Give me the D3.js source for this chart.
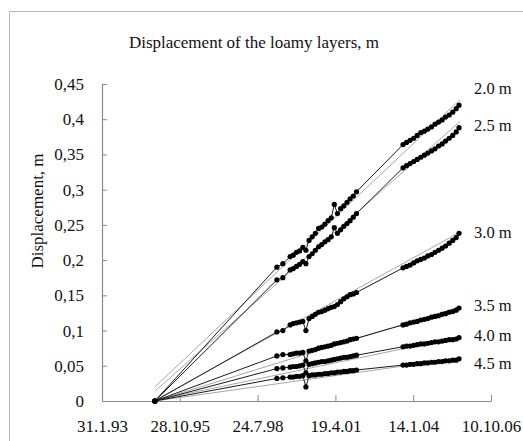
<!DOCTYPE html>
<html>
<head>
<meta charset="utf-8">
<script src="https://cdn.jsdelivr.net/npm/d3@7"></script>
<style>
  html, body { margin: 0; padding: 0; background: #fff; }
  svg { display: block; }
  text { font-family: "Liberation Serif", "Times New Roman", serif; fill: #111; }
</style>
</head>
<body>
<svg id="chart" width="523" height="441"></svg>
<script>
// ---------- DATA ----------
const titleText = "Displacement of the loamy layers, m";
const yAxisTitle = "Displacement, m";

// measurement dates shared by all depths
const dates = [
  "1994-12-12", "1999-03-29", "1999-06-14",
  "1999-09-15", "1999-10-25", "1999-12-05", "2000-01-15", "2000-02-25", "2000-04-05",
  "2000-05-15", "2000-06-25", "2000-08-05", "2000-09-15", "2000-10-25", "2000-12-05",
  "2001-01-15", "2001-02-25", "2001-04-05", "2001-05-15", "2001-06-25", "2001-08-05",
  "2001-09-15", "2001-10-25", "2001-12-05", "2002-01-15",
  "2003-09-05", "2003-10-20", "2003-12-05", "2004-01-20", "2004-03-05", "2004-04-20",
  "2004-06-05", "2004-07-20", "2004-09-05", "2004-10-20", "2004-12-05", "2005-01-20",
  "2005-03-05", "2005-04-20", "2005-06-05", "2005-07-20", "2005-08-25"
];

const depthLabels = ["2.0 m", "2.5 m", "3.0 m", "3.5 m", "4.0 m", "4.5 m"];

const disp2_0 = [0, 0.190, 0.195,
  0.205, 0.207, 0.211, 0.213, 0.218, 0.214, 0.228, 0.233, 0.238, 0.245, 0.247, 0.251,
  0.256, 0.260, 0.279, 0.266, 0.273, 0.277, 0.282, 0.287, 0.291, 0.297,
  0.364, 0.367, 0.370, 0.373, 0.377, 0.381, 0.383, 0.386, 0.389, 0.393, 0.396, 0.399,
  0.403, 0.406, 0.410, 0.415, 0.420];
const disp2_5 = [0, 0.172, 0.175,
  0.186, 0.188, 0.191, 0.194, 0.198, 0.195, 0.205, 0.209, 0.214, 0.219, 0.222, 0.226,
  0.229, 0.233, 0.246, 0.238, 0.243, 0.248, 0.252, 0.256, 0.261, 0.266,
  0.331, 0.334, 0.337, 0.340, 0.343, 0.346, 0.349, 0.352, 0.355, 0.358, 0.362, 0.365,
  0.369, 0.373, 0.377, 0.382, 0.388];
const disp3_0 = [0, 0.098, 0.100,
  0.108, 0.110, 0.111, 0.112, 0.113, 0.100, 0.117, 0.120, 0.123, 0.126, 0.127, 0.129,
  0.131, 0.133, 0.134, 0.137, 0.141, 0.145, 0.148, 0.151, 0.152, 0.154,
  0.189, 0.191, 0.193, 0.196, 0.199, 0.201, 0.203, 0.206, 0.208, 0.211, 0.214, 0.217,
  0.220, 0.224, 0.228, 0.232, 0.238];
const disp3_5 = [0, 0.064, 0.066,
  0.066, 0.067, 0.068, 0.068, 0.069, 0.057, 0.071, 0.072, 0.073, 0.075, 0.076, 0.077,
  0.078, 0.079, 0.081, 0.082, 0.083, 0.084, 0.085, 0.087, 0.088, 0.089,
  0.108, 0.109, 0.111, 0.112, 0.113, 0.115, 0.116, 0.117, 0.119, 0.120, 0.121, 0.123,
  0.124, 0.126, 0.127, 0.129, 0.132];
const disp4_0 = [0, 0.046, 0.047,
  0.048, 0.049, 0.049, 0.050, 0.051, 0.040, 0.052, 0.053, 0.054, 0.055, 0.056, 0.056,
  0.057, 0.058, 0.059, 0.060, 0.061, 0.062, 0.062, 0.063, 0.064, 0.065,
  0.077, 0.078, 0.078, 0.079, 0.080, 0.081, 0.081, 0.082, 0.083, 0.084, 0.084, 0.085,
  0.086, 0.087, 0.087, 0.088, 0.090];
const disp4_5 = [0, 0.032, 0.033,
  0.034, 0.034, 0.035, 0.035, 0.036, 0.020, 0.036, 0.037, 0.037, 0.038, 0.038, 0.039,
  0.039, 0.040, 0.040, 0.041, 0.041, 0.042, 0.042, 0.043, 0.043, 0.044,
  0.051, 0.051, 0.052, 0.052, 0.053, 0.053, 0.054, 0.054, 0.055, 0.055, 0.056, 0.056,
  0.057, 0.057, 0.058, 0.058, 0.060];

// linear trend lines (start / end)
const trendDates = ["1994-12-12", "2005-09-10"];
const trend2_0 = [0.020, 0.428];
const trend2_5 = [0.014, 0.397];
const trend3_0 = [0.001, 0.240];
const trend3_5 = [0.000, 0.134];
const trend4_0 = [0.001, 0.091];
const trend4_5 = [0.000, 0.061];

const xTickDates = ["1993-01-31", "1995-10-28", "1998-07-24", "2001-04-19", "2004-01-14", "2006-10-10"];
const yTickValues = [0, 0.05, 0.1, 0.15, 0.2, 0.25, 0.3, 0.35, 0.4, 0.45];

// ---------- DRAW ----------
const parse = d3.utcParse("%Y-%m-%d");
const seriesValues = [disp2_0, disp2_5, disp3_0, disp3_5, disp4_0, disp4_5];
const trendValues = [trend2_0, trend2_5, trend3_0, trend3_5, trend4_0, trend4_5];
const dateObjs = dates.map(parse);
const trendDateObjs = trendDates.map(parse);
const xTicks = xTickDates.map(parse);

const svg = d3.select("#chart");

// outer frame
svg.append("rect")
  .attr("x", 9.5).attr("y", 11.5)
  .attr("width", 540).attr("height", 460)
  .attr("fill", "#fff").attr("stroke", "#b8b8b8").attr("stroke-width", 1);

const x = d3.scaleUtc().domain([xTicks[0], xTicks[xTicks.length - 1]]).range([102, 491]);
const y = d3.scaleLinear().domain([0, 0.45]).range([401, 84]);

const fmtDate = d => `${d.getUTCDate()}.${d.getUTCMonth() + 1}.${String(d.getUTCFullYear()).slice(2)}`;
const fmtNum = v => String(+v.toFixed(2)).replace(".", ",");

// title
svg.append("text")
  .attr("x", 254).attr("y", 48)
  .attr("text-anchor", "middle")
  .style("font-size", "17px")
  .text(titleText);

// y axis title
svg.append("text")
  .attr("transform", "translate(43,211) rotate(-90)")
  .attr("text-anchor", "middle")
  .style("font-size", "17px")
  .text(yAxisTitle);

// axes
const yAxis = d3.axisLeft(y).tickValues(yTickValues).tickFormat(fmtNum)
  .tickSizeInner(-5).tickSizeOuter(0).tickPadding(18);
const gy = svg.append("g").attr("transform", "translate(102,0)").call(yAxis);

const xAxis = d3.axisBottom(x).tickValues(xTicks).tickFormat(fmtDate)
  .tickSizeInner(-6).tickSizeOuter(0).tickPadding(19);
const gx = svg.append("g").attr("transform", "translate(0,401)").call(xAxis);

[gx, gy].forEach(g => {
  g.attr("font-family", null);
  g.select(".domain").attr("stroke", "#8a8a8a").attr("stroke-width", 1.2);
  g.selectAll(".tick line").attr("stroke", "#8a8a8a");
  g.selectAll(".tick text").style("font-size", "17px").attr("fill", "#111")
    .style("font-family", "'Liberation Serif', 'Times New Roman', serif");
});
gy.selectAll(".tick").filter(d => d === 0).select("line").remove();

// trend lines
const line = d3.line().x(d => x(d[0])).y(d => y(d[1]));
trendValues.forEach(tv => {
  svg.append("path")
    .datum(trendDateObjs.map((d, i) => [d, tv[i]]))
    .attr("d", line)
    .attr("fill", "none")
    .attr("stroke", "#a8a8a8")
    .attr("stroke-width", 1);
});

// data series
seriesValues.forEach(vals => {
  const pts = dateObjs.map((d, i) => [d, vals[i]]);
  svg.append("path")
    .datum(pts)
    .attr("d", line)
    .attr("fill", "none")
    .attr("stroke", "#1a1a1a")
    .attr("stroke-width", 1);
  svg.append("g").selectAll("circle")
    .data(pts)
    .join("circle")
    .attr("cx", d => x(d[0]))
    .attr("cy", d => y(d[1]))
    .attr("r", 2.6)
    .attr("fill", "#000");
});

// depth labels at the right
const labelY = [88, 125, 232, 305, 335, 363];
depthLabels.forEach((t, i) => {
  svg.append("text")
    .attr("x", 474).attr("y", labelY[i])
    .attr("dy", "0.35em")
    .style("font-size", "16.5px")
    .text(t);
});
</script>
</body>
</html>
